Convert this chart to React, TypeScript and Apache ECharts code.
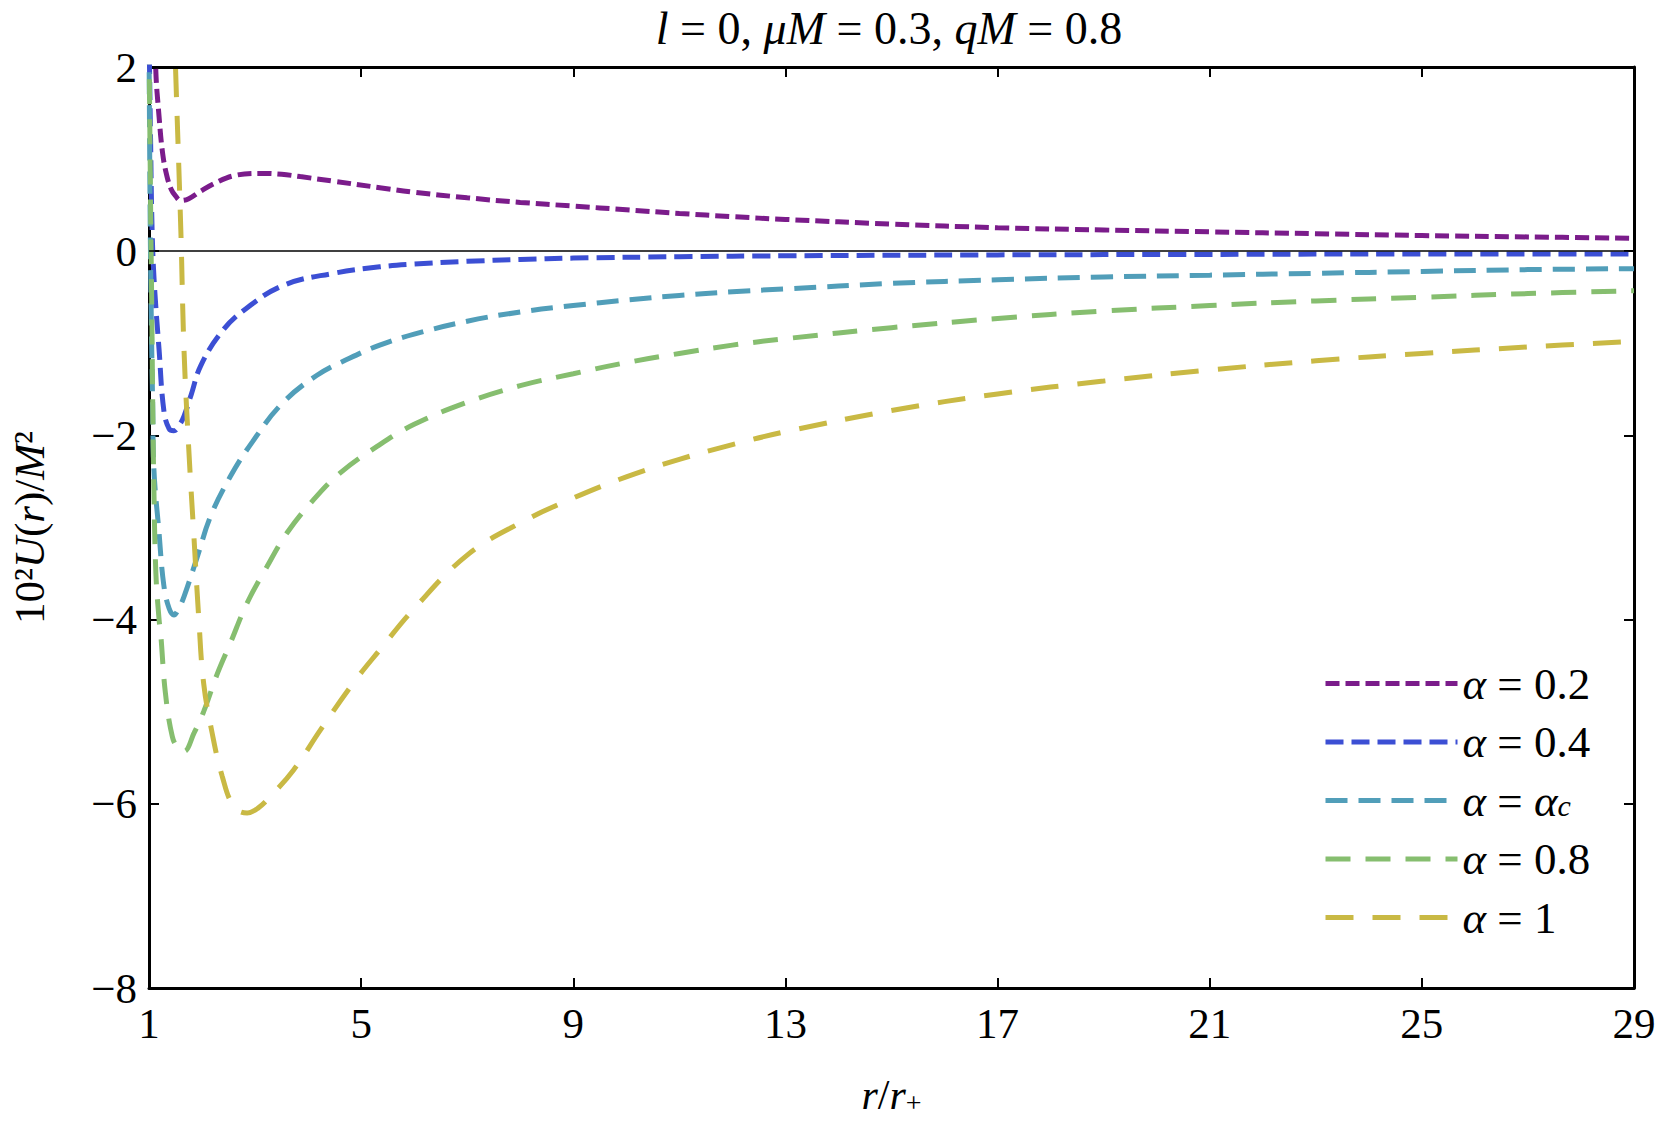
import React, { useEffect, useRef } from "react";
import * as echarts from "echarts";

const FONT = "'Liberation Serif', 'Times New Roman', serif";

const seriesNames = ["α = 0.2", "α = 0.4", "α = α_c", "α = 0.8", "α = 1"];
const seriesColors = ["#7B1C8B", "#3C4FD4", "#519EB9", "#86BE6F", "#C9B944"];
const seriesDash = [[14, 6], [18, 8], [22, 11], [25, 15], [28, 19]];

const r02 = [1.08, 1.126, 1.19, 1.26, 1.34, 1.42, 1.5, 1.6, 1.75, 1.97, 2.25, 2.6, 3.1, 3.5, 3.85, 4.48, 5.35, 6, 7, 8, 9, 10, 11, 12, 13, 15, 17, 19, 21, 23, 25, 27, 29];
const u02 = [3.5, 2.0, 1.46, 1.05, 0.81, 0.67, 0.6, 0.55, 0.57, 0.65, 0.74, 0.82, 0.845, 0.835, 0.81, 0.76, 0.69, 0.64, 0.58, 0.53, 0.49, 0.45, 0.41, 0.375, 0.345, 0.295, 0.255, 0.23, 0.21, 0.19, 0.17, 0.155, 0.14];

const r04 = [1.0, 1.03, 1.06, 1.1, 1.19, 1.28, 1.38, 1.47, 1.58, 1.66, 1.8, 1.97, 2.35, 2.79, 3.54, 4.48, 5.35, 6, 7, 8, 9, 11, 13, 17, 21, 25, 29];
const u04 = [2.4, 1.2, 0.2, -0.35, -1.07, -1.73, -1.93, -1.95, -1.88, -1.79, -1.55, -1.25, -0.89, -0.64, -0.37, -0.24, -0.17, -0.14, -0.11, -0.09, -0.075, -0.06, -0.05, -0.04, -0.035, -0.03, -0.03];

const rC = [1.0, 1.02, 1.04, 1.07, 1.09, 1.19, 1.28, 1.38, 1.47, 1.56, 1.66, 1.91, 2.16, 2.53, 2.95, 3.5, 4.16, 4.79, 5.35, 6, 7, 8, 9, 10, 11, 12, 13, 15, 17, 19, 21, 23, 25, 27, 29];
const uC = [2.3, 0.5, -0.6, -1.7, -2.34, -3.06, -3.63, -3.88, -3.95, -3.88, -3.75, -3.32, -2.88, -2.45, -2.07, -1.66, -1.35, -1.16, -1.02, -0.9, -0.76, -0.66, -0.59, -0.53, -0.48, -0.44, -0.41, -0.35, -0.31, -0.28, -0.26, -0.24, -0.22, -0.2, -0.19];

const r08 = [1.0, 1.03, 1.05, 1.07, 1.09, 1.13, 1.19, 1.22, 1.31, 1.44, 1.55, 1.66, 1.85, 2.03, 2.28, 2.53, 2.85, 3.22, 3.6, 4.1, 4.6, 5.3, 6, 7, 8, 9, 10, 11, 12, 13, 15, 17, 19, 21, 23, 25, 27, 29];
const u08 = [2.3, 0.5, -0.5, -1.65, -2.5, -3.5, -4.0, -4.15, -4.8, -5.27, -5.4, -5.43, -5.23, -5.0, -4.6, -4.26, -3.82, -3.43, -3.06, -2.7, -2.41, -2.12, -1.88, -1.64, -1.46, -1.33, -1.21, -1.11, -1.02, -0.95, -0.83, -0.73, -0.65, -0.59, -0.54, -0.5, -0.46, -0.43];

const r10 = [1.45, 1.5, 1.6, 1.66, 1.75, 1.85, 1.94, 2.03, 2.19, 2.38, 2.6, 2.85, 3.05, 3.29, 3.73, 4.23, 4.85, 5.35, 6, 7, 8, 9, 10, 11, 12, 13, 15, 17, 19, 21, 23, 25, 27, 29];
const u10 = [3.0, 2.0, 0.23, -1.07, -2.15, -3.13, -4.0, -4.69, -5.23, -5.7, -6.03, -6.1, -6.05, -5.92, -5.63, -5.2, -4.69, -4.33, -3.88, -3.3, -2.95, -2.68, -2.45, -2.26, -2.1, -1.96, -1.73, -1.55, -1.41, -1.29, -1.19, -1.11, -1.04, -0.98];

const seriesR = [r02, r04, rC, r08, r10];
const seriesU = [u02, u04, uC, u08, u10];

const xTickMin = 1;
const xTickMax = 29;
const xTickStep = 4;
const yTickMin = -8;
const yTickMax = 2;
const yTickStep = 2;

const legendRich: Record<string, string> = {
  "α = 0.2": "{i|α} = 0.2",
  "α = 0.4": "{i|α} = 0.4",
  "α = α_c": "{i|α} = {i|α}{sub|c}",
  "α = 0.8": "{i|α} = 0.8",
  "α = 1": "{i|α} = 1",
};

export default function App() {
  const ref = useRef<HTMLDivElement>(null);
  useEffect(() => {
    document.body.style.margin = "0";
    if (!ref.current) return;
    const chart = echarts.init(ref.current, undefined, { renderer: "svg" });
    const minus = (v: number) => String(v).replace("-", "\u2212");
    const series: any[] = seriesNames.map((name, k) => ({
      name,
      type: "line",
      data: seriesR[k].map((r, i) => [r, seriesU[k][i]]),
      symbol: "none",
      smooth: 0.4,
      clip: true,
      color: seriesColors[k],
      lineStyle: { color: seriesColors[k], width: 5, type: seriesDash[k] },
      z: 3,
    }));
    series[0].markLine = {
      silent: true,
      symbol: "none",
      label: { show: false },
      lineStyle: { color: "#000", width: 1.5, type: "solid" },
      data: [{ yAxis: 0 }],
      z: 4,
    };
    const axisLine = { show: true, onZero: false, lineStyle: { color: "#000", width: 3 } };
    const axisTick = { show: true, inside: true, length: 10, lineStyle: { color: "#000", width: 2 } };
    chart.setOption({
      animation: false,
      backgroundColor: "#fff",
      title: {
        text: "{i|l} = 0, {i|μM} = 0.3, {i|qM} = 0.8",
        left: 884,
        top: 0,
        textAlign: "center",
        textStyle: {
          fontFamily: FONT,
          fontSize: 46,
          fontWeight: "normal",
          color: "#000",
          rich: { i: { fontFamily: FONT, fontSize: 46, fontStyle: "italic", color: "#000" } },
        },
      },
      grid: { left: 144, top: 67, right: 27, bottom: 141, containLabel: false },
      legend: {
        orient: "vertical",
        left: 1318,
        top: 656,
        itemWidth: 132,
        itemHeight: 20,
        itemGap: 13.5,
        itemStyle: { opacity: 0 },
        lineStyle: { width: 5 },
        data: seriesNames,
        formatter: (name: string) => legendRich[name] || name,
        textStyle: {
          fontFamily: FONT,
          fontSize: 45,
          lineHeight: 40,
          color: "#000",
          rich: {
            i: { fontFamily: FONT, fontSize: 45, lineHeight: 40, fontStyle: "italic", color: "#000" },
            sub: { fontFamily: FONT, fontSize: 30, lineHeight: 22, fontStyle: "italic", color: "#000", verticalAlign: "bottom" },
          },
        },
      },
      xAxis: [
        {
          type: "value",
          min: xTickMin,
          max: xTickMax,
          interval: xTickStep,
          axisLine,
          axisTick,
          splitLine: { show: false },
          axisLabel: { fontFamily: FONT, fontSize: 43, color: "#000", margin: 14 },
          name: "{i|r}/{i|r}{sub|+}",
          nameLocation: "middle",
          nameGap: 86,
          nameTextStyle: {
            fontFamily: FONT,
            fontSize: 42,
            color: "#000",
            rich: {
              i: { fontFamily: FONT, fontSize: 42, lineHeight: 40, fontStyle: "italic", color: "#000" },
              sub: { fontFamily: FONT, fontSize: 28, lineHeight: 22, color: "#000", verticalAlign: "bottom" },
            },
          },
        },
        {
          type: "value",
          position: "top",
          min: xTickMin,
          max: xTickMax,
          interval: xTickStep,
          axisLine,
          axisTick,
          splitLine: { show: false },
          axisLabel: { show: false },
        },
      ],
      yAxis: [
        {
          type: "value",
          min: yTickMin,
          max: yTickMax,
          interval: yTickStep,
          axisLine,
          axisTick,
          splitLine: { show: false },
          axisLabel: { fontFamily: FONT, fontSize: 43, color: "#000", margin: 12, formatter: minus },
          name: "10²{i|U}({i|r})/{i|M}²",
          nameLocation: "middle",
          nameGap: 98,
          nameTextStyle: {
            fontFamily: FONT,
            fontSize: 43,
            color: "#000",
            rich: { i: { fontFamily: FONT, fontSize: 43, fontStyle: "italic", color: "#000" } },
          },
        },
        {
          type: "value",
          position: "right",
          min: yTickMin,
          max: yTickMax,
          interval: yTickStep,
          axisLine,
          axisTick,
          splitLine: { show: false },
          axisLabel: { show: false },
        },
      ],
      series,
    });
    return () => chart.dispose();
  }, []);
  return <div ref={ref} style={{ width: 1661, height: 1129 }} />;
}
